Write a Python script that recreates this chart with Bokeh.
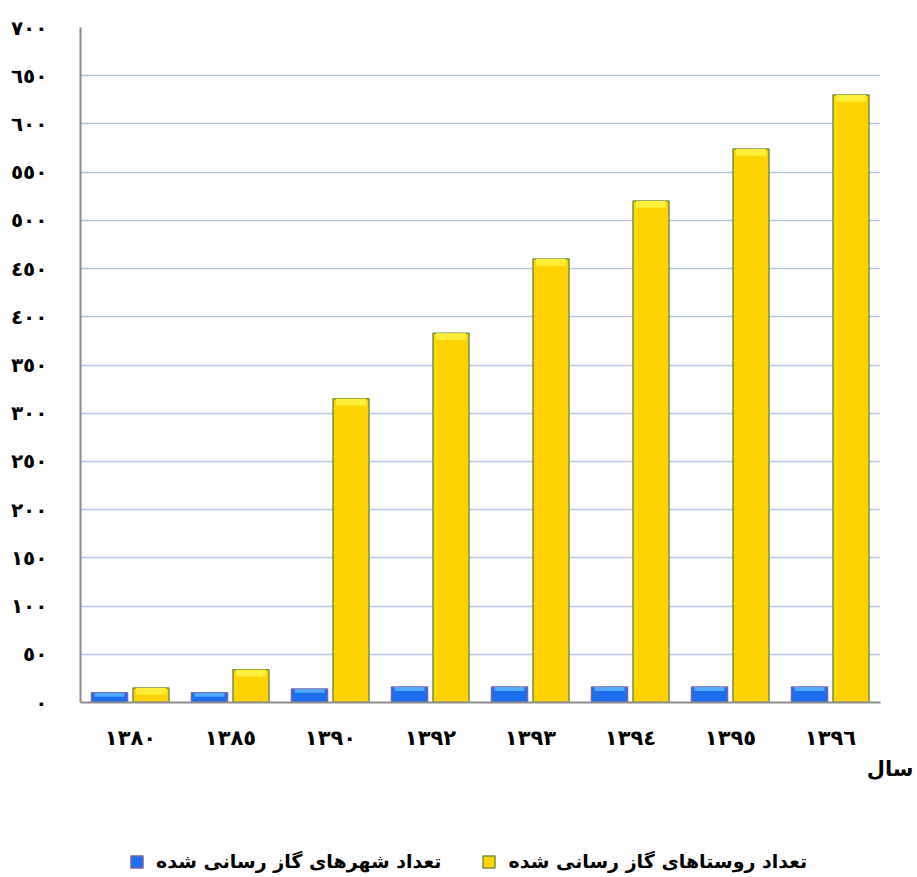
from bokeh.plotting import figure
from bokeh.layouts import column
from bokeh.models import (FactorRange, Range1d, FixedTicker, Legend, LegendItem,
                          Title, ColumnDataSource)
from bokeh.transform import dodge
from bokeh.embed import file_html
from bokeh.resources import INLINE

# ---- data ----
years = ["١٣٨٠", "١٣٨٥", "١٣٩٠", "١٣٩٢", "١٣٩٣", "١٣٩٤", "١٣٩٥", "١٣٩٦"]
cities = [10, 10, 14, 16, 16, 16, 16, 16]
villages = [15, 34, 315, 383, 460, 520, 574, 630]
y_ticks = [0, 50, 100, 150, 200, 250, 300, 350, 400, 450, 500, 550, 600, 650, 700]
y_tick_labels = ["٠", "٥٠", "١٠٠", "١٥٠", "٢٠٠", "٢٥٠", "٣٠٠", "٣٥٠", "٤٠٠",
                 "٤٥٠", "٥٠٠", "٥٥٠", "٦٠٠", "٦٥٠", "٧٠٠"]
label_cities = "تعداد شهرهای گاز رسانی شده"
label_villages = "تعداد روستاهای گاز رسانی شده"
x_title = "سال"

FONT = "DejaVu Sans"
BLUE, BLUE_LINE, BLUE_HI = "#1C6EEE", "#7D62A6", "#52A9FF"
GOLD, GOLD_LINE, GOLD_HI = "#FFD400", "#76923C", "#FFEE3A"

# bevel highlight bands (derived from the values)
src = ColumnDataSource(dict(
    year=years, cities=cities, villages=villages,
    cities_hi=[v - 4 for v in cities], villages_hi=[v - 7 for v in villages]))

p = figure(width=917, height=800, output_backend="svg", toolbar_location=None,
           x_range=FactorRange(*years, range_padding=0), y_range=Range1d(0, 700),
           min_border_left=80, min_border_right=37, min_border_top=27,
           min_border_bottom=98)
p.outline_line_color = None
p.background_fill_color = "white"

r_c = p.vbar(x=dodge("year", -0.21, range=p.x_range), top="cities", width=0.36,
             source=src, fill_color=BLUE, line_color=BLUE_LINE, line_width=1.5)
p.vbar(x=dodge("year", -0.21, range=p.x_range), top="cities", bottom="cities_hi",
       width=0.3, source=src, fill_color=BLUE_HI, line_color=None)
r_v = p.vbar(x=dodge("year", 0.205, range=p.x_range), top="villages", width=0.36,
             source=src, fill_color=GOLD, line_color=GOLD_LINE, line_width=1.5)
p.vbar(x=dodge("year", 0.205, range=p.x_range), top="villages", bottom="villages_hi",
       width=0.3, source=src, fill_color=GOLD_HI, line_color=None)

# axes
p.xgrid.grid_line_color = None
p.ygrid.grid_line_color = "#B3C7E8"
p.ygrid.grid_line_width = 1.5
p.yaxis.ticker = FixedTicker(ticks=y_ticks)
p.yaxis.major_label_overrides = {t: l for t, l in zip(y_ticks, y_tick_labels)}
for ax in (p.xaxis, p.yaxis):
    ax.axis_line_color = "#8C8C8C"
    ax.axis_line_width = 2
    ax.major_tick_line_color = None
    ax.minor_tick_line_color = None
    ax.major_label_text_font = FONT
    ax.major_label_text_font_style = "bold"
    ax.major_label_text_color = "black"
p.yaxis.major_label_text_font_size = "20px"
p.yaxis.major_label_standoff = 27
p.xaxis.major_label_text_font_size = "21px"
p.xaxis.major_label_standoff = 17

t = Title(text=x_title, align="right", offset=-33, standoff=4,
          text_font=FONT, text_font_style="bold", text_font_size="21px",
          text_color="black")
p.add_layout(t, "below")

# legend strip (hidden proxies of the same series give the swatches)
lg = figure(width=917, height=77, output_backend="svg", toolbar_location=None,
            x_range=p.x_range, y_range=Range1d(0, 1),
            min_border_left=0, min_border_right=0, min_border_top=0,
            min_border_bottom=0)
lg.axis.visible = False
lg.grid.visible = False
lg.outline_line_color = None
lc = lg.vbar(x=dodge("year", -0.21, range=lg.x_range), top="cities", width=0.36,
             source=src, fill_color=BLUE, line_color=BLUE_LINE, line_width=1.5,
             visible=False)
lv = lg.vbar(x=dodge("year", 0.205, range=lg.x_range), top="villages", width=0.36,
             source=src, fill_color=GOLD, line_color=GOLD_LINE, line_width=1.5,
             visible=False)
legend = Legend(items=[LegendItem(label=label_cities, renderers=[lc]),
                       LegendItem(label=label_villages, renderers=[lv])],
                location=(49, 4), orientation="horizontal",
                padding=0, margin=0, spacing=40, label_standoff=12,
                glyph_width=15, glyph_height=15, label_height=24,
                border_line_color=None, background_fill_alpha=0,
                label_text_font=FONT, label_text_font_style="bold",
                label_text_font_size="19px", label_text_color="black")
lg.add_layout(legend, "center")

open("out.html", "w").write(file_html(column(p, lg, spacing=0), INLINE))
